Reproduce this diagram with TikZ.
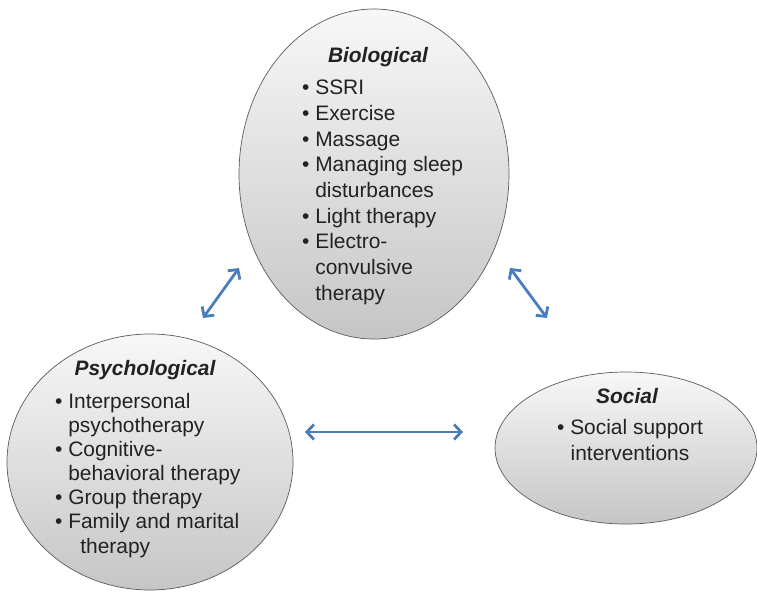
\documentclass[tikz,border=0pt]{standalone}
\usepackage{fontspec}
\setmainfont{Liberation Sans}
\usetikzlibrary{shapes.geometric,arrows.meta}
\definecolor{arrblue}{HTML}{4A7EBB}
\definecolor{edgegray}{HTML}{5A5A5A}
\definecolor{txt}{HTML}{222222}
\begin{document}
\begin{tikzpicture}[x=1bp,y=-1bp,
 oval/.style={ellipse, draw=edgegray, line width=0.7pt, top color=gray!6, bottom color=gray!45, inner sep=0pt},
 titletext/.style={text=txt, font=\fontsize{21}{25}\selectfont\bfseries\itshape, inner sep=0pt},
 items/.style={text=txt, font=\fontsize{21}{25.75}\selectfont, align=left, inner sep=0pt},
 link/.style={draw=arrblue, line width=2.8pt, {Straight Barb[length=7pt,width=15pt]}-{Straight Barb[length=7pt,width=15pt]}}]
\useasboundingbox (0,0) rectangle (757,594);
% ellipses
\node[oval, minimum width=270bp, minimum height=330bp] (bio) at (374,174) {};
\node[oval, minimum width=286bp, minimum height=256bp] (psy) at (150,462) {};
\node[oval, minimum width=262bp, minimum height=152bp] (soc) at (626,448) {};
% texts (base anchor = baseline of last line)
\node[titletext, anchor=base] (biot) at (378,63) {Biological};
\node[items, anchor=base west] (biol) at (302,300) {\textbullet\ SSRI\\
\textbullet\ Exercise\\
\textbullet\ Massage\\
\textbullet\ Managing sleep\\
\phantom{\textbullet\ }disturbances\\
\textbullet\ Light therapy\\
\textbullet\ Electro-\\
\phantom{\textbullet\ }convulsive\\
\phantom{\textbullet\ }therapy};
\node[titletext, anchor=base] (psyt) at (145,375) {Psychological};
\node[items, font=\fontsize{21}{24.2}\selectfont, anchor=base west] (psyl) at (55,553) {\textbullet\ Interpersonal\\
\phantom{\textbullet\ }psychotherapy\\
\textbullet\ Cognitive-\\
\phantom{\textbullet\ }behavioral therapy\\
\textbullet\ Group therapy\\
\textbullet\ Family and marital\\
\phantom{\textbullet\ }\hspace{12bp}therapy};
\node[titletext, anchor=base] (soct) at (627,403) {Social};
\node[items, align=center, anchor=base] (socl) at (630,460) {\textbullet\ Social support\\ interventions};
% arrows
\coordinate (a1) at (203,318);
\coordinate (a2) at (239,268);
\coordinate (b1) at (510,268);
\coordinate (b2) at (547,318);
\coordinate (c1) at (305,432);
\coordinate (c2) at (463,432);
\draw[link] (a1) -- (a2);
\draw[link] (b1) -- (b2);
\draw[link] (c1) -- (c2);
\end{tikzpicture}
\end{document}
